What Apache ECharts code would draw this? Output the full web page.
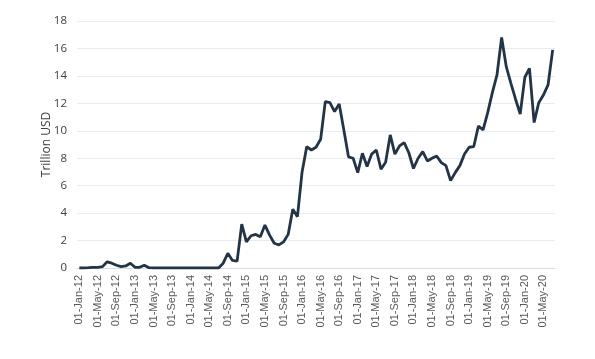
<!DOCTYPE html>
<html>
<head>
<meta charset="utf-8">
<script src="https://cdn.jsdelivr.net/npm/echarts@6/dist/echarts.min.js"></script>
<style>
  html, body { margin: 0; padding: 0; background: #fff; }
  #chart { width: 595px; height: 359px; }
</style>
</head>
<body>
<div id="chart"></div>
<script>
// monthly labels, Jan-2012 .. Jul-2020
const monthNames = ['Jan', 'Feb', 'Mar', 'Apr', 'May', 'Jun', 'Jul', 'Aug', 'Sep', 'Oct', 'Nov', 'Dec'];
const startYear = 12;
const monthCount = 103;
const categories = [];
for (let i = 0; i < monthCount; i++) {
  categories.push('01-' + monthNames[i % 12] + '-' + (startYear + Math.floor(i / 12)));
}

// Trillion USD
const values = [
  0, 0, 0.02, 0.05, 0.05, 0.1, 0.45, 0.35, 0.2, 0.1, 0.15, 0.35,
  0.05, 0.05, 0.2, 0.02, 0, 0, 0, 0, 0, 0, 0, 0,
  0, 0, 0, 0, 0, 0, 0, 0.35, 1.07, 0.55, 0.5, 3.2,
  1.9, 2.35, 2.45, 2.28, 3.13, 2.4, 1.8, 1.68, 1.9, 2.45, 4.28, 3.74,
  7.0, 8.84, 8.6, 8.8, 9.38, 12.12, 12.05, 11.4, 11.95, 10.06, 8.1, 8.0,
  6.95, 8.36, 7.4, 8.3, 8.6, 7.2, 7.7, 9.7, 8.3, 8.9, 9.14, 8.4,
  7.25, 8.0, 8.48, 7.8, 8.0, 8.16, 7.68, 7.46, 6.37, 6.95, 7.46, 8.31,
  8.8, 8.85, 10.35, 10.06, 11.32, 12.78, 14.07, 16.8, 14.67, 13.46, 12.3, 11.22,
  13.9, 14.55, 10.6, 12.05, 12.6, 13.34, 15.9
];

const yTicks = { min: 0, max: 18, step: 2 };

const chart = echarts.init(document.getElementById('chart'), null, { renderer: 'canvas' });
chart.setOption({
  animation: false,
  grid: { left: 77, right: 40, top: 21, bottom: 91 },
  xAxis: {
    type: 'category',
    data: categories,
    boundaryGap: true,
    axisLine: { lineStyle: { color: '#d5dde6', width: 1 } },
    axisTick: { interval: 3, length: 4, lineStyle: { color: '#d5dde6' } },
    axisLabel: {
      interval: 3,
      rotate: 90,
      margin: 7,
      color: '#595959',
      fontFamily: 'Liberation Sans',
      fontSize: 11
    }
  },
  yAxis: {
    type: 'value',
    min: yTicks.min,
    max: yTicks.max,
    interval: yTicks.step,
    name: 'Trillion USD',
    nameLocation: 'middle',
    nameRotate: 90,
    nameGap: 24,
    nameMoveOverlap: false,
    nameTextStyle: { color: '#404040', fontFamily: 'Open Sans', fontSize: 12 },
    axisLine: { show: false },
    axisTick: { show: false },
    axisLabel: { color: '#404040', fontFamily: 'Open Sans', fontSize: 11.5, margin: 10 },
    splitLine: { lineStyle: { color: '#e8ebef', width: 1 } }
  },
  series: [{
    type: 'line',
    data: values,
    symbol: 'none',
    smooth: false,
    lineStyle: { color: '#233446', width: 2.8 }
  }]
});
</script>
</body>
</html>
